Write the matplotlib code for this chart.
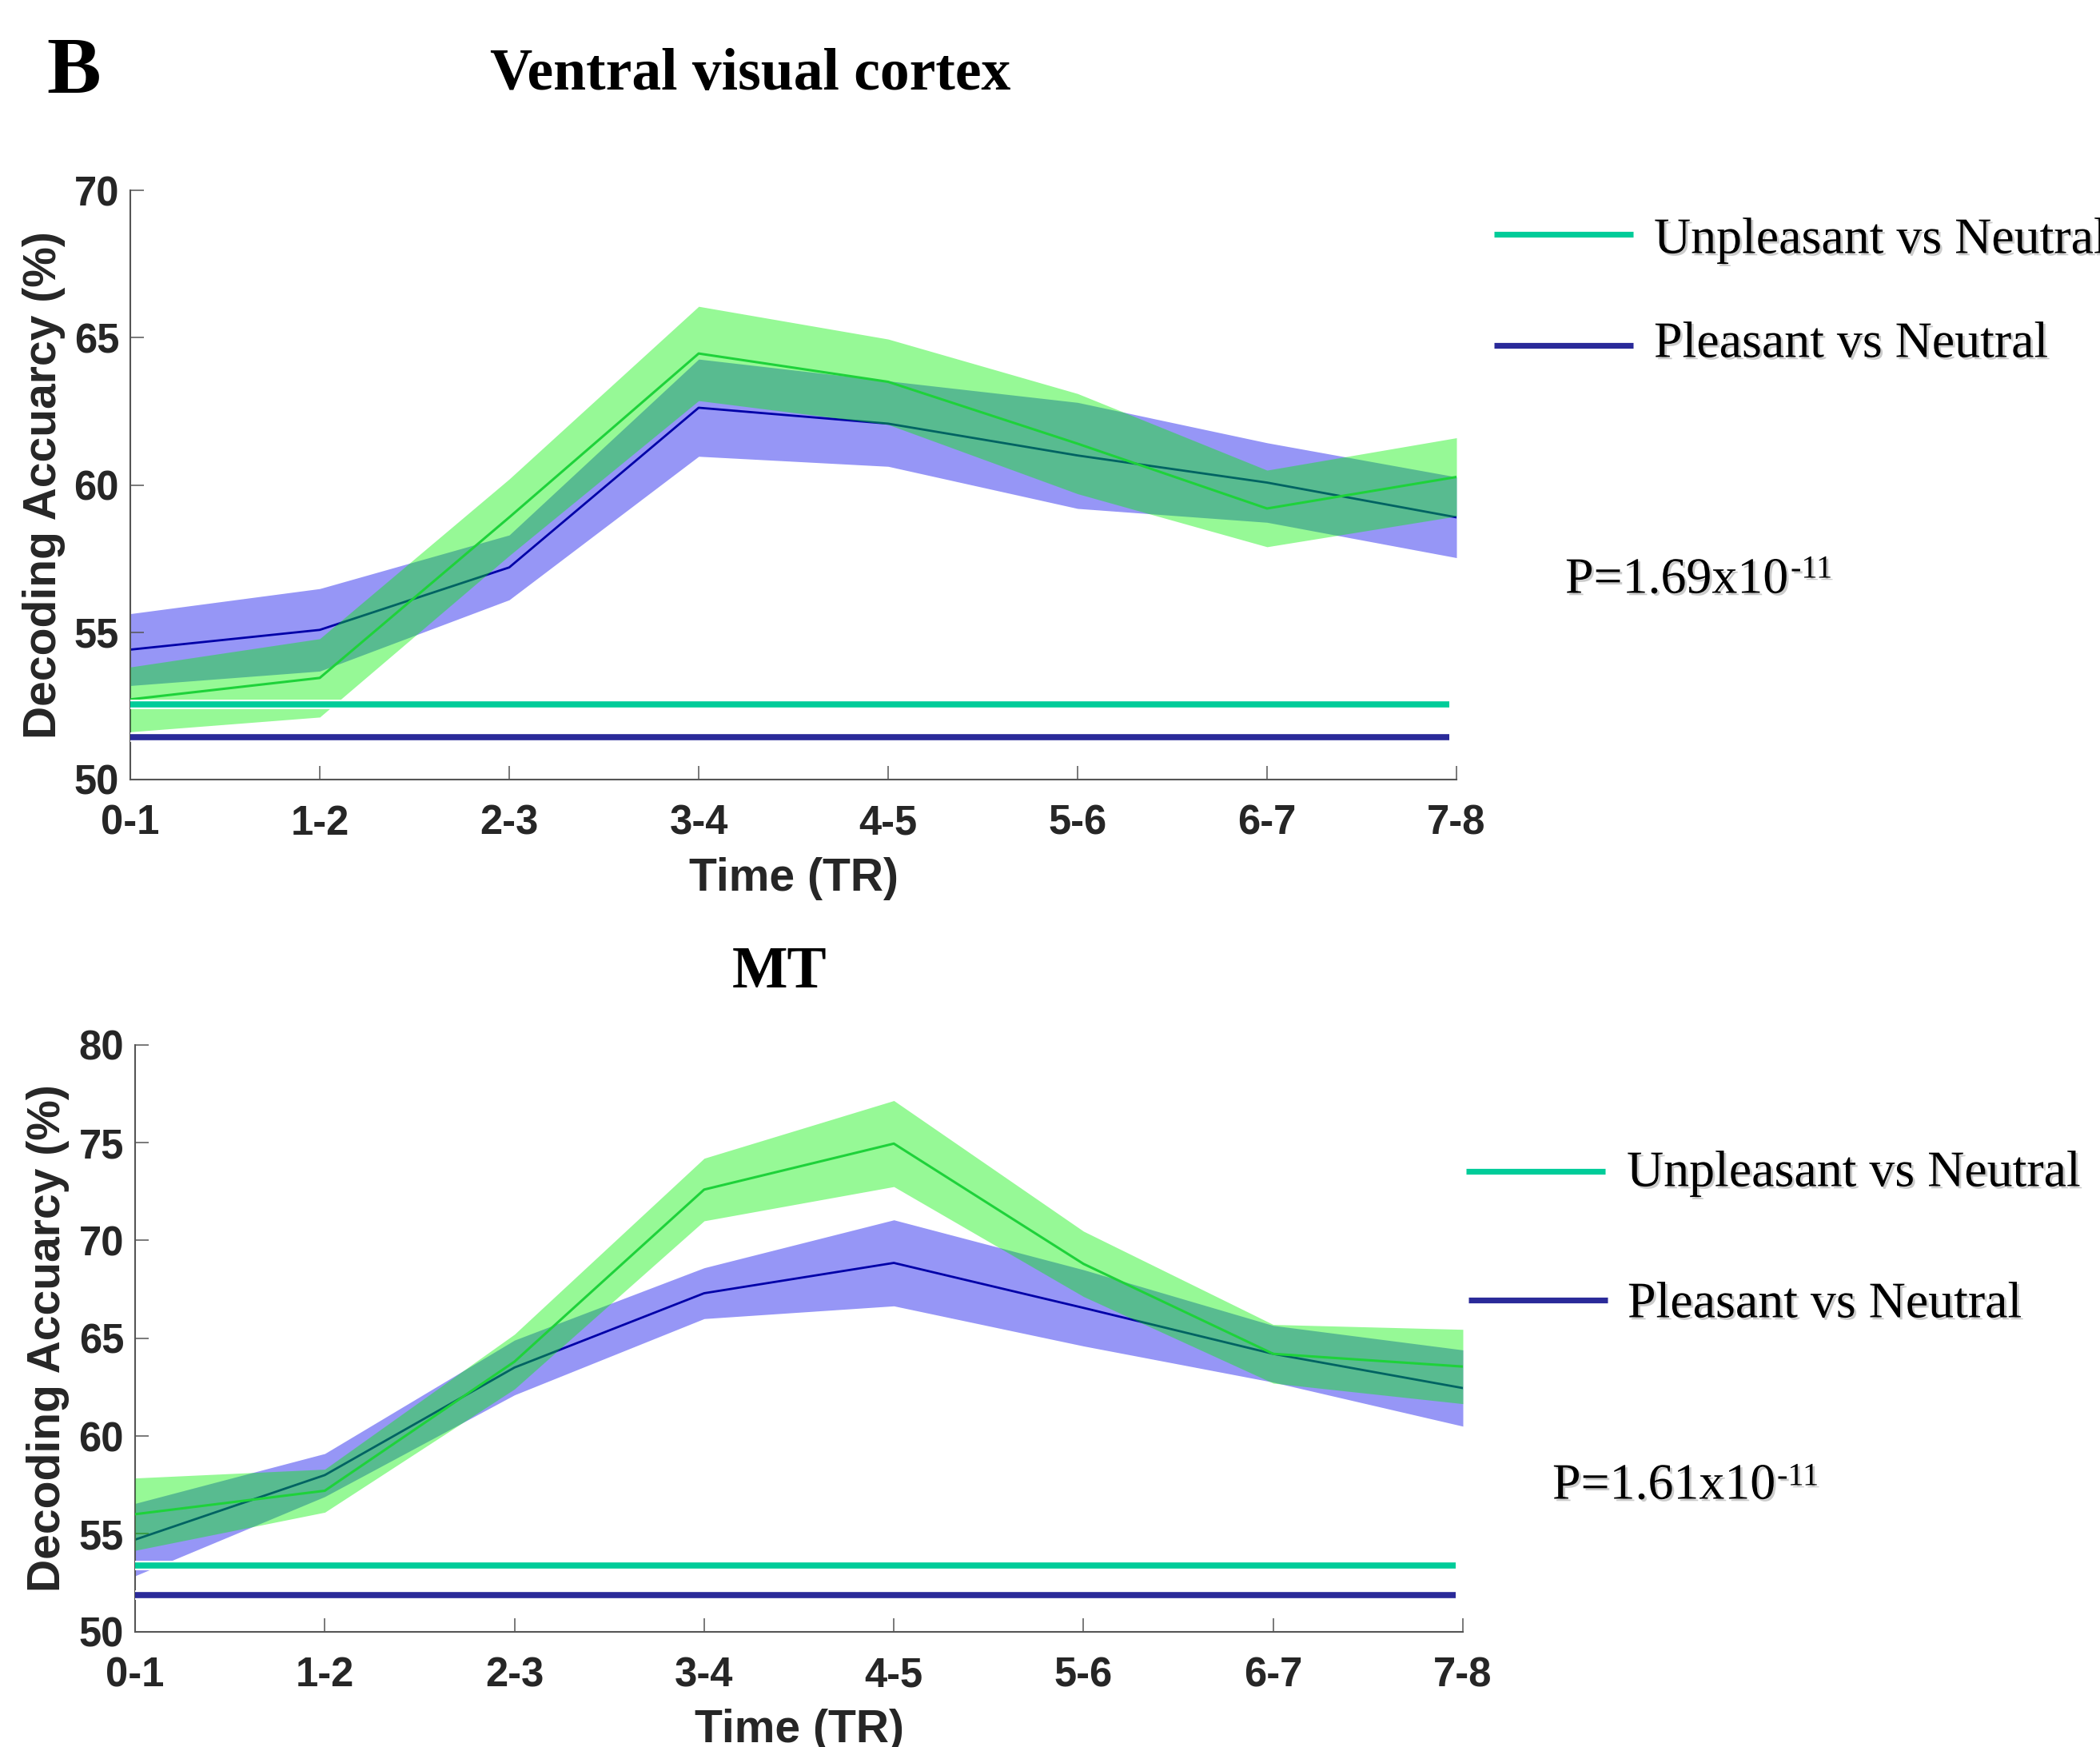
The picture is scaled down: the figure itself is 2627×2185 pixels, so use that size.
import matplotlib
matplotlib.use("Agg")
import matplotlib.pyplot as plt
import matplotlib.patheffects as pe
import numpy as np

# ---------------- data ----------------
time_labels = ["0-1", "1-2", "2-3", "3-4", "4-5", "5-6", "6-7", "7-8"]

# Ventral visual cortex
vvc_unpleasant = [52.72, 53.45, 58.9, 64.46, 63.5, 61.4, 59.2, 60.27]
vvc_unpleasant_err = [1.1, 1.33, 1.3, 1.6, 1.45, 1.7, 1.3, 1.33]
vvc_pleasant = [54.41, 55.08, 57.2, 62.62, 62.08, 61.0, 60.08, 58.9]
vvc_pleasant_err = [1.22, 1.4, 1.1, 1.65, 1.45, 1.8, 1.35, 1.37]
vvc_chance_unpleasant = 52.56
vvc_chance_pleasant = 51.45
vvc_p = "P=1.69x10"

# MT
mt_unpleasant = [56.0, 57.2, 63.8, 72.6, 74.95, 68.8, 64.2, 63.55]
mt_unpleasant_err = [1.85, 1.1, 1.4, 1.6, 2.2, 1.67, 1.5, 1.9]
mt_pleasant = [54.7, 58.0, 63.5, 67.3, 68.85, 66.55, 64.2, 62.45]
mt_pleasant_err = [1.85, 1.1, 1.4, 1.3, 2.2, 1.95, 1.45, 1.95]
mt_chance_unpleasant = 53.37
mt_chance_pleasant = 51.86
mt_p = "P=1.61x10"
p_exp = "-11"

legend_labels = ["Unpleasant vs Neutral", "Pleasant vs Neutral"]

# ---------------- style ----------------
W, H = 2627, 2185
DPI = 100
SANS = ["Liberation Sans", "DejaVu Sans"]
SERIF = ["Liberation Serif", "DejaVu Serif"]

GREEN_FILL = (0.0, 0.95, 0.0)
BLUE_FILL = (0.0, 0.0, 0.92)
GREEN_LINE = "#1ED23A"
BLUE_LINE = "#0000A8"
GREEN_CH = "#00CC99"
BLUE_CH = "#2A2A99"
TXT = "#262626"
SPINE = "#555555"

fig = plt.figure(figsize=(W / DPI, H / DPI), dpi=DPI)
fig.patch.set_facecolor("white")


def fx(px):
    return px / W


def fy(py):
    return 1 - py / H


shadow = [pe.withSimplePatchShadow(offset=(2, -2), shadow_rgbFace="0.55", alpha=0.45)]


def panel(rect, unp, unp_err, ple, ple_err, ch_u, ch_p, ylim, yticks, ylab_x):
    ax = fig.add_axes(rect)
    x = np.arange(len(time_labels))
    unp = np.array(unp); unp_err = np.array(unp_err)
    ple = np.array(ple); ple_err = np.array(ple_err)
    ax.fill_between(x, ple - ple_err, ple + ple_err, color=BLUE_FILL, alpha=0.41,
                    linewidth=0, zorder=1)
    ax.plot(x, ple, color=BLUE_LINE, lw=2.0, zorder=2)
    ax.fill_between(x, unp - unp_err, unp + unp_err, color=GREEN_FILL, alpha=0.41,
                    linewidth=0, zorder=3)
    ax.plot(x, unp, color=GREEN_LINE, lw=2.2, zorder=4)
    white = [pe.Stroke(linewidth=8.5, foreground="white"), pe.Normal()]
    ax.plot([0, 6.96], [ch_u, ch_u], color=GREEN_CH, lw=5.5, zorder=5,
            solid_capstyle="butt", path_effects=white, clip_on=False)
    ax.plot([0, 6.96], [ch_p, ch_p], color=BLUE_CH, lw=5.5, zorder=5,
            solid_capstyle="butt", path_effects=white, clip_on=False)

    ax.set_xlim(0, 7)
    ax.set_ylim(*ylim)
    ax.set_xticks(x)
    ax.set_xticklabels(time_labels)
    ax.set_yticks(yticks)
    for s in ["top", "right"]:
        ax.spines[s].set_visible(False)
    for s in ["left", "bottom"]:
        ax.spines[s].set_color(SPINE)
        ax.spines[s].set_linewidth(1.5)
    ax.tick_params(axis="both", direction="in", length=12, width=1.1, color=SPINE,
                   labelcolor=TXT)
    ax.tick_params(axis="x", pad=22)
    ax.tick_params(axis="y", pad=10)
    for lab in ax.get_xticklabels() + ax.get_yticklabels():
        lab.set_fontfamily(SANS)
        lab.set_fontweight("bold")
        lab.set_fontsize(36.5)
    ax.set_xlabel("Time (TR)", fontsize=41, fontweight="bold", family=SANS, color=TXT,
                  va="top")
    ax.xaxis.set_label_coords(0.5, -0.131)
    ax.set_ylabel("Decoding Accuarcy (%)", fontsize=41, fontweight="bold", family=SANS,
                  color=TXT, va="center")
    ax.yaxis.set_label_coords(ylab_x, 0.5)
    ax.set_facecolor("none")
    return ax


ax1 = panel([fx(163), fy(975), fx(1822 - 163), (975 - 238) / H],
            vvc_unpleasant, vvc_unpleasant_err, vvc_pleasant, vvc_pleasant_err,
            vvc_chance_unpleasant, vvc_chance_pleasant, (50, 70), [50, 55, 60, 65, 70], -0.065)
ax2 = panel([fx(169), fy(2040.6), fx(1830 - 169), (2040.6 - 1306.8) / H],
            mt_unpleasant, mt_unpleasant_err, mt_pleasant, mt_pleasant_err,
            mt_chance_unpleasant, mt_chance_pleasant, (50, 80), [50, 55, 60, 65, 70, 75, 80], -0.0656)

# ---------------- titles ----------------
fig.text(fx(58), fy(117), "B", family=SERIF, fontweight="bold", fontsize=73,
         ha="left", va="baseline", color="black")
fig.text(fx(939), fy(112), "Ventral visual cortex", family=SERIF, fontweight="bold",
         fontsize=53, ha="center", va="baseline", color="black")
fig.text(fx(975), fy(1235), "MT", family=SERIF, fontweight="bold",
         fontsize=53, ha="center", va="baseline", color="black")


# ---------------- legends & p values ----------------
def legend_entry(x0, x1, y_line, x_text, y_base, color, label):
    fig.add_artist(plt.Line2D([fx(x0), fx(x1)], [fy(y_line), fy(y_line)],
                              color=color, lw=5.2, solid_capstyle="butt",
                              transform=fig.transFigure))
    fig.text(fx(x_text), fy(y_base), label, family=SERIF, fontsize=46,
             ha="left", va="baseline", color="black", path_effects=shadow)


legend_entry(1869, 2043, 293, 2069, 316.5, GREEN_CH, legend_labels[0])
legend_entry(1869, 2043, 432, 2069, 446.5, BLUE_CH, legend_labels[1])
legend_entry(1834, 2008, 1464.5, 2035, 1483.5, GREEN_CH, legend_labels[0])
legend_entry(1837, 2011, 1625.5, 2036, 1647.5, BLUE_CH, legend_labels[1])


def pvalue(ax, x_text, y_base, text, sup_x, sup_base):
    fig.text(fx(x_text), fy(y_base), text, family=SERIF, fontsize=46,
             ha="left", va="baseline", color="black", path_effects=shadow)
    fig.text(fx(sup_x), fy(sup_base), p_exp, family=SERIF, fontsize=29,
             ha="left", va="baseline", color="black", path_effects=shadow)


pvalue(ax1, 1958, 741.5, vvc_p, 2240, 722.5)
pvalue(ax2, 1942, 1874.5, mt_p, 2223, 1857.5)

fig.savefig("out.png", dpi=DPI, facecolor="white")
